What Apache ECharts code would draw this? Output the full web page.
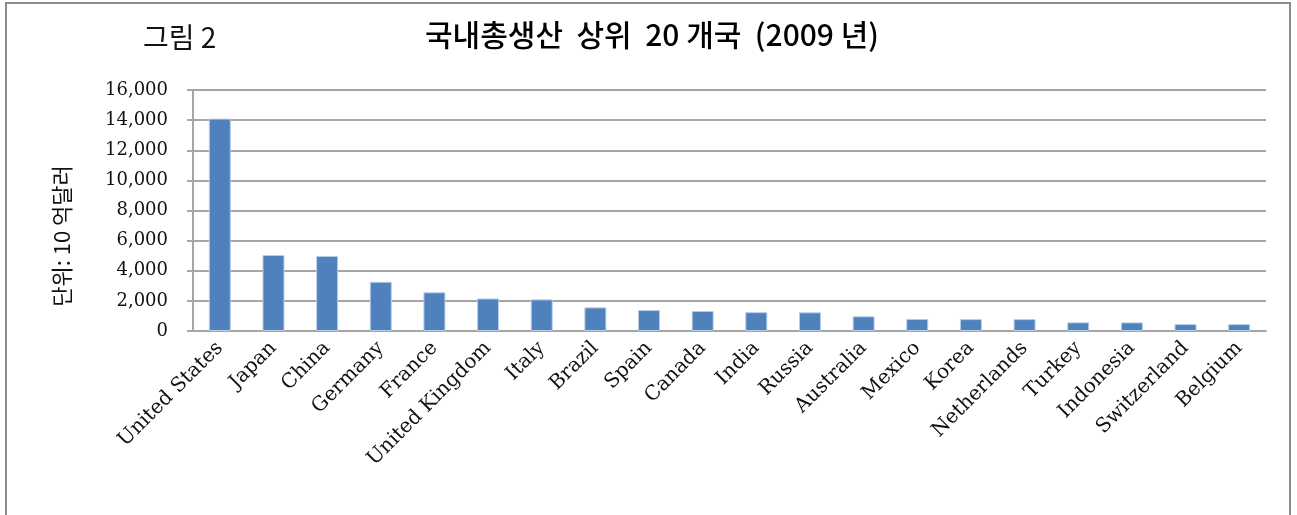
<!DOCTYPE html>
<html>
<head>
<meta charset="utf-8">
<script src="https://cdn.jsdelivr.net/npm/echarts@6/dist/echarts.min.js"></script>
<style>
  html, body { margin: 0; padding: 0; background: #fff; }
  #chart { width: 1297px; height: 515px; }
</style>
</head>
<body>
<div id="chart"></div>
<script>
// 2009 GDP, top 20 (unit: billion USD)
var countries = [
  "United States", "Japan", "China", "Germany", "France", "United Kingdom",
  "Italy", "Brazil", "Spain", "Canada", "India", "Russia", "Australia",
  "Mexico", "Korea", "Netherlands", "Turkey", "Indonesia", "Switzerland", "Belgium"
];
var gdp = [
  14100, 5050, 4980, 3270, 2570, 2160,
  2100, 1570, 1390, 1330, 1250, 1240, 975,
  800, 790, 790, 575, 570, 460, 455
];
var yTicks = { min: 0, max: 16000, interval: 2000 };

var chart = echarts.init(document.getElementById("chart"));
var serif = "DejaVu Serif";

chart.setOption({
  animation: false,
  backgroundColor: "#fff",
  graphic: [
    {
      type: "rect",
      shape: { x: 6, y: 3, width: 1284, height: 530 },
      style: { fill: "none", stroke: "#8c8c8c", lineWidth: 2 }
    },
    {
      type: "text",
      left: 143, top: 23,
      style: { text: "그림 2", font: "28px 'Noto Sans CJK KR'", fill: "#111" }
    },
    {
      type: "text",
      left: 425, top: 20,
      style: {
        text: "국내총생산  상위  20 개국  (2009 년)",
        font: "500 30px 'Noto Sans CJK KR'",
        fill: "#000"
      }
    },
    {
      // unit label, rotated along the y axis
      type: "text",
      x: 62, y: 236,
      rotation: Math.PI / 2,
      style: {
        text: "단위: 10 억달러",
        font: "22px 'Noto Sans CJK KR'",
        fill: "#111",
        align: "center",
        verticalAlign: "middle"
      }
    }
  ],
  grid: { left: 193, right: 31, top: 90, bottom: 184, containLabel: false },
  xAxis: {
    type: "category",
    data: countries,
    axisLine: { lineStyle: { color: "#a6a6a6", width: 2 } },
    axisTick: { show: false },
    axisLabel: {
      rotate: 45,
      interval: 0,
      margin: 14,
      color: "#111",
      fontFamily: serif,
      fontSize: 20
    }
  },
  yAxis: {
    type: "value",
    min: yTicks.min,
    max: yTicks.max,
    interval: yTicks.interval,
    axisLine: { show: true, lineStyle: { color: "#a6a6a6", width: 2 } },
    axisTick: { show: true, length: 6, lineStyle: { color: "#a6a6a6", width: 2 } },
    splitLine: { lineStyle: { color: "#a6a6a6", width: 2 } },
    axisLabel: {
      margin: 25,
      color: "#111",
      fontFamily: serif,
      fontSize: 18,
      formatter: function (v) { return v.toLocaleString("en-US"); }
    }
  },
  series: [
    {
      type: "bar",
      data: gdp,
      barWidth: 22,
      itemStyle: { color: "#4f81bd", borderColor: "#b9cde5", borderWidth: 1 }
    }
  ]
});
</script>
</body>
</html>
